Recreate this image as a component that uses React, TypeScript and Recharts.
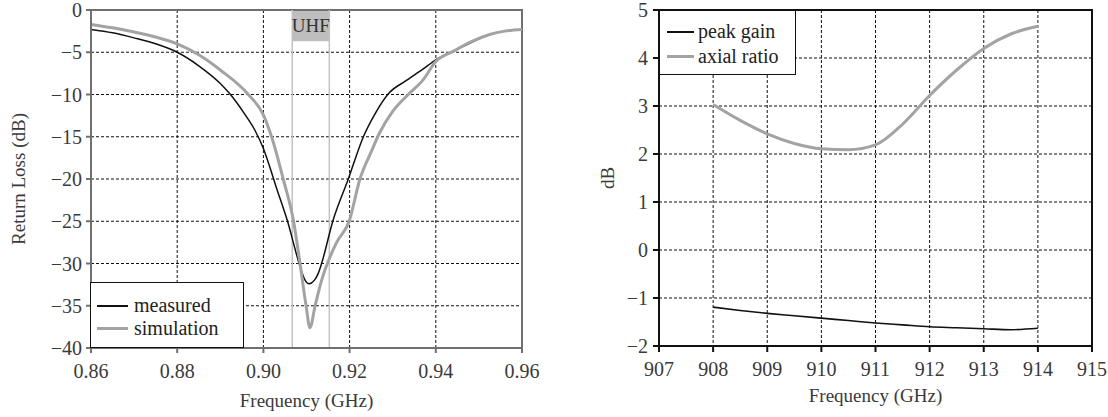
import { LineChart, Line, XAxis, YAxis, CartesianGrid, Legend, ReferenceArea, ReferenceLine } from 'recharts'

// left panel: return loss
const measuredFreq = [0.86, 0.865, 0.87, 0.875, 0.88, 0.885, 0.89, 0.8925, 0.8955, 0.898, 0.9, 0.9015, 0.903, 0.9056, 0.9083, 0.9096, 0.9106, 0.9118, 0.9127, 0.9135, 0.9161, 0.9197, 0.9232, 0.926, 0.9292, 0.933, 0.937, 0.94, 0.944, 0.948, 0.9525, 0.956, 0.96]
const measuredLoss = [-2.3, -2.7, -3.3, -4.0, -5.0, -6.6, -8.7, -10.1, -12.2, -14.2, -16.4, -18.6, -21.0, -25, -30, -31.9, -32.4, -32.0, -31.2, -30, -25, -20, -15, -12.2, -9.8, -8.4, -7.0, -5.9, -4.9, -3.9, -2.9, -2.5, -2.3]

const simFreq = [0.86, 0.865, 0.87, 0.875, 0.88, 0.885, 0.89, 0.8965, 0.9, 0.9019, 0.9046, 0.907, 0.9085, 0.9099, 0.9108, 0.912, 0.9135, 0.915, 0.917, 0.9199, 0.9224, 0.925, 0.927, 0.93, 0.9336, 0.937, 0.94, 0.944, 0.948, 0.9525, 0.956, 0.96]
const simLoss = [-1.7, -2.1, -2.6, -3.2, -4.0, -5.3, -7.1, -10, -12.4, -15, -20, -25, -30, -35, -37.6, -35, -32, -29.8, -27.5, -25, -20, -16.8, -14.5, -12, -10, -8.3, -6.1, -4.9, -3.8, -2.9, -2.5, -2.3]

const lossTicksX = [0.86, 0.88, 0.9, 0.92, 0.94, 0.96]
const lossTicksY = [-40, -35, -30, -25, -20, -15, -10, -5, 0]
const uhfBand = [0.9067, 0.9153]

// right panel: gain / axial ratio
const gainFreq = [908, 908.5, 909, 909.5, 910, 910.5, 911, 911.5, 912, 912.5, 913, 913.5, 914]
const peakGain = [-1.19, -1.26, -1.32, -1.37, -1.42, -1.47, -1.52, -1.56, -1.6, -1.62, -1.64, -1.66, -1.63]
const axialRatio = [3.03, 2.7, 2.42, 2.22, 2.11, 2.09, 2.19, 2.62, 3.22, 3.75, 4.2, 4.5, 4.66]

const gainTicksX = [907, 908, 909, 910, 911, 912, 913, 914, 915]
const gainTicksY = [-2, -1, 0, 1, 2, 3, 4, 5]

const FONT = '"Liberation Serif", "Times New Roman", serif'
const TEXT = '#3a3a3a'
const GRAY = '#a3a3a3'

const minus = (v: number) => (v < 0 ? '\u2212' + Math.abs(v) : String(v))

const measuredData = measuredFreq.map((f, i) => ({ f, v: measuredLoss[i] }))
const simData = simFreq.map((f, i) => ({ f, v: simLoss[i] }))
const gainData = gainFreq.map((f, i) => ({ f, v: peakGain[i] }))
const arData = gainFreq.map((f, i) => ({ f, v: axialRatio[i] }))

const xTick = (fmt: (v: number) => string) => (p: any) => (
  <text x={p.x} y={p.y} dy="0.71em" textAnchor="middle" fill={TEXT} style={{ fontFamily: FONT, fontSize: 20 }}>
    {fmt(p.payload.value)}
  </text>
)

const yTick = (fmt: (v: number) => string) => (p: any) => (
  <text x={p.x} y={p.y} dy="0.35em" textAnchor="end" fill={TEXT} style={{ fontFamily: FONT, fontSize: 20 }}>
    {fmt(p.payload.value)}
  </text>
)

// axis titles, placed relative to the axis viewBox
const xTitle = (text: string, fromBottom: number) => (p: any) => {
  const vb = p.viewBox || {}
  return (
    <text x={vb.x + vb.width / 2} y={vb.y + vb.height - fromBottom} textAnchor="middle" fill={TEXT} style={{ fontFamily: FONT, fontSize: 19 }}>
      {text}
    </text>
  )
}

const yTitle = (text: string, fromLeft: number) => (p: any) => {
  const vb = p.viewBox || {}
  const cx = vb.x + fromLeft
  const cy = vb.y + vb.height / 2
  return (
    <text x={cx} y={cy} dy="0.35em" textAnchor="middle" transform={`rotate(-90 ${cx} ${cy})`} fill={TEXT} style={{ fontFamily: FONT, fontSize: 19 }}>
      {text}
    </text>
  )
}

function LegendBox({ items, sampleLeft, sampleLen, textLeft, rowTop, rowGap }: {
  items: { name: string; color: string; width: number }[]
  sampleLeft: number
  sampleLen: number
  textLeft: number
  rowTop: number
  rowGap: number
}) {
  return (
    <div style={{ position: 'relative', width: '100%', height: '100%', boxSizing: 'border-box', border: '1.5px solid #111', background: '#fff', fontFamily: FONT, fontSize: 20, color: '#222' }}>
      {items.map((it, i) => (
        <div key={it.name} style={{ position: 'absolute', left: 0, top: rowTop + i * rowGap - 12, height: 24, width: '100%' }}>
          <div style={{ position: 'absolute', left: sampleLeft, top: 12 - it.width / 2, width: sampleLen, height: it.width, background: it.color }} />
          <span style={{ position: 'absolute', left: textLeft, top: 0, lineHeight: '22px', whiteSpace: 'nowrap' }}>{it.name}</span>
        </div>
      ))}
    </div>
  )
}

function ReturnLossChart() {
  const axisColor = '#707070'
  return (
    <LineChart width={560} height={417} margin={{ top: 10, right: 38, bottom: 0, left: 0 }}>
      <CartesianGrid stroke="#111" strokeDasharray="3 2" />
      <XAxis
        type="number"
        dataKey="f"
        domain={[0.86, 0.96]}
        ticks={lossTicksX}
        allowDataOverflow
        height={69}
        tickSize={5}
        tickMargin={11}
        tick={xTick((v) => v.toFixed(2))}
        stroke={axisColor}
        strokeWidth={2}
        label={{ content: xTitle('Frequency (GHz)', 10) }}
      />
      <YAxis
        type="number"
        domain={[-40, 0]}
        ticks={lossTicksY}
        allowDataOverflow
        width={91}
        tickSize={5}
        tickMargin={4}
        tick={yTick(minus)}
        stroke={axisColor}
        strokeWidth={2}
        label={{ content: yTitle('Return Loss (dB)', 18) }}
      />
      <ReferenceLine x={uhfBand[0]} stroke="#c2c2c2" strokeWidth={1.5} />
      <ReferenceLine x={uhfBand[1]} stroke="#c2c2c2" strokeWidth={1.5} />
      <ReferenceArea
        x1={uhfBand[0]}
        x2={uhfBand[1]}
        y1={-3.7}
        y2={0}
        fill="#bebebe"
        fillOpacity={1}
        stroke="none"
        label={{ value: 'UHF', position: 'center', fill: '#333', fontSize: 19, style: { fontFamily: FONT } }}
      />
      <ReferenceArea x1={0.86} x2={0.96} y1={-40} y2={0} fill="none" stroke={axisColor} strokeWidth={2} />
      <Line data={measuredData} dataKey="v" type="monotone" stroke="#111" strokeWidth={1.5} dot={false} isAnimationActive={false} name="measured" />
      <Line data={simData} dataKey="v" type="monotone" stroke={GRAY} strokeWidth={3} dot={false} isAnimationActive={false} name="simulation" />
      <Legend
        layout="horizontal"
        verticalAlign="middle"
        align="center"
        wrapperStyle={{ position: 'absolute', left: 90, top: 282, width: 154, height: 66 }}
        content={() => (
          <LegendBox
            items={[
              { name: 'measured', color: '#111', width: 1.5 },
              { name: 'simulation', color: GRAY, width: 3 },
            ]}
            sampleLeft={6}
            sampleLen={31}
            textLeft={43}
            rowTop={23}
            rowGap={22.5}
          />
        )}
      />
    </LineChart>
  )
}

function GainChart() {
  const axisColor = '#111'
  return (
    <LineChart width={548} height={417} margin={{ top: 10, right: 16, bottom: 0, left: 0 }}>
      <CartesianGrid stroke="#111" strokeDasharray="3 2" />
      <XAxis
        type="number"
        dataKey="f"
        domain={[907, 915]}
        ticks={gainTicksX}
        allowDataOverflow
        height={71}
        tickSize={6}
        tickMargin={10}
        tick={xTick(String)}
        stroke={axisColor}
        strokeWidth={2}
        label={{ content: xTitle('Frequency (GHz)', 15) }}
      />
      <YAxis
        type="number"
        domain={[-2, 5]}
        ticks={gainTicksY}
        allowDataOverflow
        width={99}
        tickSize={6}
        tickMargin={5}
        tick={yTick(minus)}
        stroke={axisColor}
        strokeWidth={2}
        label={{ content: yTitle('dB', 47) }}
      />
      <ReferenceArea x1={907} x2={915} y1={-2} y2={5} fill="none" stroke={axisColor} strokeWidth={2} />
      <Line data={gainData} dataKey="v" type="monotone" stroke="#111" strokeWidth={1.6} dot={false} isAnimationActive={false} name="peak gain" />
      <Line data={arData} dataKey="v" type="monotone" stroke={GRAY} strokeWidth={3} dot={false} isAnimationActive={false} name="axial ratio" />
      <Legend
        layout="horizontal"
        verticalAlign="middle"
        align="center"
        wrapperStyle={{ position: 'absolute', left: 99, top: 10, width: 137, height: 65 }}
        content={() => (
          <LegendBox
            items={[
              { name: 'peak gain', color: '#111', width: 1.6 },
              { name: 'axial ratio', color: GRAY, width: 3 },
            ]}
            sampleLeft={7}
            sampleLen={27}
            textLeft={38}
            rowTop={21}
            rowGap={24.5}
          />
        )}
      />
    </LineChart>
  )
}

export default function App() {
  return (
    <div style={{ position: 'absolute', left: 0, top: 0, width: 1108, height: 417, background: '#fff' }}>
      <div style={{ position: 'absolute', left: 0, top: 0 }}>
        <ReturnLossChart />
      </div>
      <div style={{ position: 'absolute', left: 560, top: 0 }}>
        <GainChart />
      </div>
    </div>
  )
}
